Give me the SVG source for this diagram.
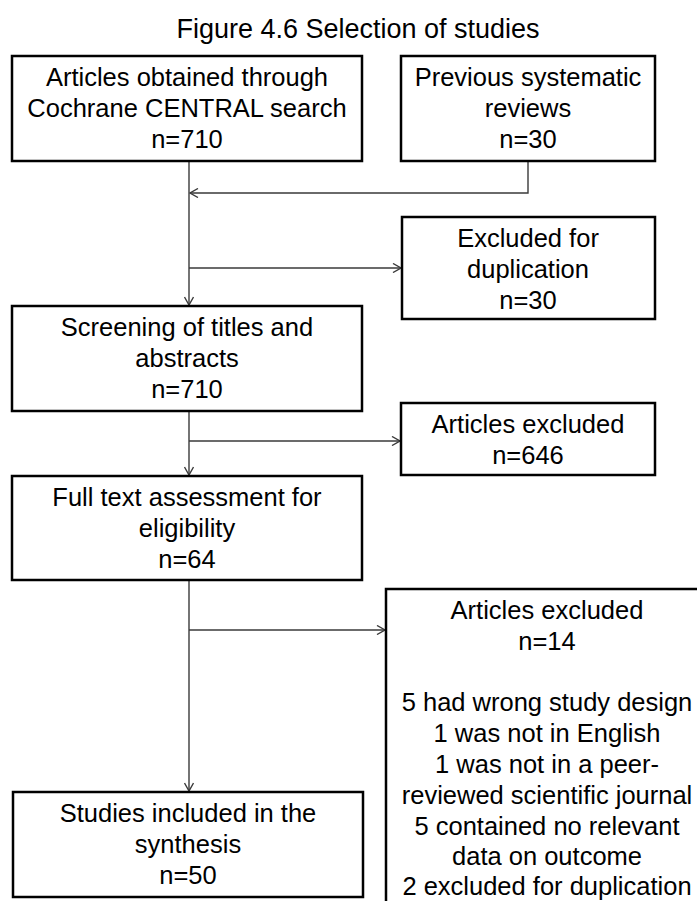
<svg xmlns="http://www.w3.org/2000/svg" width="697" height="901" viewBox="0 0 697 901">
  <defs>
    <style>
      .box { fill: #ffffff; stroke: #000000; stroke-width: 2.5; }
      .t { font-family: "Liberation Sans", Arial, sans-serif; font-size: 25.5px; fill: #000000; text-anchor: middle; }
      .title { font-family: "Liberation Sans", Arial, sans-serif; font-size: 27px; fill: #000000; text-anchor: middle; }
      .conn { fill: none; stroke: #3a3a3a; stroke-width: 1.4; }
    </style>
    <marker id="arr" viewBox="0 0 10 10" refX="9" refY="5" markerWidth="10" markerHeight="10" markerUnits="userSpaceOnUse" orient="auto">
      <path d="M1,0.5 L9,5 L1,9.5" fill="none" stroke="#3a3a3a" stroke-width="1.4"/>
    </marker>
  </defs>
  <rect width="697" height="901" fill="#ffffff"/>

  <text class="title" x="358" y="38">Figure 4.6 Selection of studies</text>

  <g id="connectors">
    <path class="conn" d="M528,161 V193 H190" marker-end="url(#arr)"/>
    <path class="conn" d="M189,161 V305" marker-end="url(#arr)"/>
    <path class="conn" d="M189,268 H401" marker-end="url(#arr)"/>
    <path class="conn" d="M189,412 V475" marker-end="url(#arr)"/>
    <path class="conn" d="M189,441 H400" marker-end="url(#arr)"/>
    <path class="conn" d="M189,581 V791" marker-end="url(#arr)"/>
    <path class="conn" d="M189,630 H385" marker-end="url(#arr)"/>
  </g>

  <g id="node-central">
    <rect class="box" x="12" y="56" width="350" height="105"/>
    <text class="t" x="187" y="86">Articles obtained through</text>
    <text class="t" x="187" y="117">Cochrane CENTRAL search</text>
    <text class="t" x="187" y="148">n=710</text>
  </g>

  <g id="node-previous">
    <rect class="box" x="401" y="56" width="254" height="105"/>
    <text class="t" x="528" y="86">Previous systematic</text>
    <text class="t" x="528" y="117">reviews</text>
    <text class="t" x="528" y="148">n=30</text>
  </g>

  <g id="node-duplication">
    <rect class="box" x="402" y="217" width="253" height="102"/>
    <text class="t" x="528" y="247">Excluded for</text>
    <text class="t" x="528" y="278">duplication</text>
    <text class="t" x="528" y="309">n=30</text>
  </g>

  <g id="node-screening">
    <rect class="box" x="12" y="306" width="350" height="105"/>
    <text class="t" x="187" y="336">Screening of titles and</text>
    <text class="t" x="187" y="367">abstracts</text>
    <text class="t" x="187" y="398">n=710</text>
  </g>

  <g id="node-excluded646">
    <rect class="box" x="401" y="403" width="254" height="72"/>
    <text class="t" x="528" y="433">Articles excluded</text>
    <text class="t" x="528" y="464">n=646</text>
  </g>

  <g id="node-fulltext">
    <rect class="box" x="12" y="476" width="350" height="104"/>
    <text class="t" x="187" y="506">Full text assessment for</text>
    <text class="t" x="187" y="537">eligibility</text>
    <text class="t" x="187" y="568">n=64</text>
  </g>

  <g id="node-excluded14">
    <rect class="box" x="386" y="589" width="340" height="340"/>
    <text class="t" x="547" y="619">Articles excluded</text>
    <text class="t" x="547" y="650">n=14</text>
    <text class="t" x="547" y="711">5 had wrong study design</text>
    <text class="t" x="547" y="742">1 was not in English</text>
    <text class="t" x="547" y="773">1 was not in a peer-</text>
    <text class="t" x="547" y="804">reviewed scientific journal</text>
    <text class="t" x="547" y="835">5 contained no relevant</text>
    <text class="t" x="547" y="865">data on outcome</text>
    <text class="t" x="547" y="895">2 excluded for duplication</text>
  </g>

  <g id="node-included">
    <rect class="box" x="13" y="792" width="350" height="105"/>
    <text class="t" x="188" y="822">Studies included in the</text>
    <text class="t" x="188" y="853">synthesis</text>
    <text class="t" x="188" y="884">n=50</text>
  </g>
</svg>
